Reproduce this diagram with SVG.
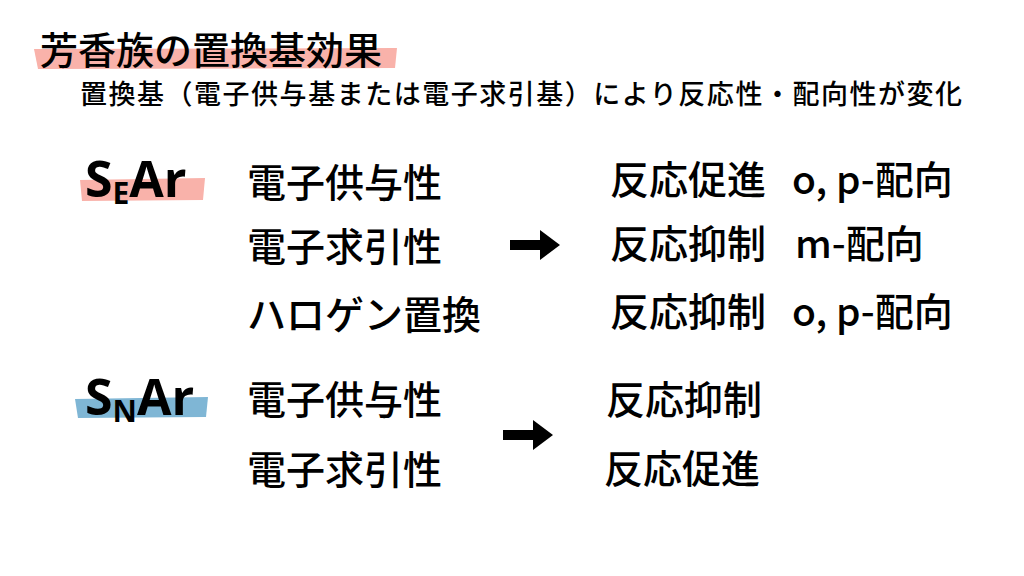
<svg xmlns="http://www.w3.org/2000/svg" width="1024" height="576" viewBox="0 0 1024 576">
<style>
text{font-family:"Noto Sans CJK JP","Noto Sans",sans-serif;fill:#000}
.b{font-size:39px;font-weight:500}
.l{font-size:50px;font-weight:700;font-family:"Open Sans","Noto Sans",sans-serif}
.s{font-size:30px;font-weight:700;font-family:"Open Sans","Noto Sans",sans-serif}
</style>
<rect width="1024" height="576" fill="#fff"/>
<g id="title">
<path d="M34 49 L397 48 L395 68 L38 69 Z" fill="#f9b2aa"/>
<text x="40" y="64" font-size="38" font-weight="500">芳香族の置換基効果</text>
<text x="80" y="104" font-size="27" font-weight="500" textLength="882" lengthAdjust="spacing">置換基（電子供与基または電子求引基）により反応性・配向性が変化</text>
</g>
<g id="sear">
<path d="M80 180 L205 178 L203 200 L82 201 Z" fill="#f9b2aa"/>
<text x="85" y="197"><tspan class="l">S</tspan><tspan class="s" dy="7">E</tspan><tspan class="l" dy="-7">Ar</tspan></text>
</g>
<g id="snar">
<path d="M75 399 L208 397 L206 417 L78 418 Z" fill="#7fb6d5"/>
<text x="85" y="415"><tspan class="l">S</tspan><tspan class="s" dy="7">N</tspan><tspan class="l" dy="-7">Ar</tspan></text>
</g>
<g id="left">
<text class="b" x="247" y="197">電子供与性</text>
<text class="b" x="247" y="261">電子求引性</text>
<text class="b" x="247" y="329">ハロゲン置換</text>
<text class="b" x="247" y="414">電子供与性</text>
<text class="b" x="247" y="484">電子求引性</text>
</g>
<g id="right">
<text class="b" x="610" y="194">反応促進</text>
<text class="b" x="792" y="194">o, p-配向</text>
<text class="b" x="610" y="258">反応抑制</text>
<text class="b" x="795" y="258">m-配向</text>
<text class="b" x="610" y="326">反応抑制</text>
<text class="b" x="792" y="326">o, p-配向</text>
<text class="b" x="606" y="414">反応抑制</text>
<text class="b" x="604" y="483">反応促進</text>
</g>
<g id="connectors">
<path d="M510 240 L540 240 L540 230 L560 245 L540 260 L540 250 L510 250 Z" fill="#000"/>
<path d="M503 430 L533 430 L533 420 L553 435 L533 450 L533 440 L503 440 Z" fill="#000"/>
</g>
</svg>
